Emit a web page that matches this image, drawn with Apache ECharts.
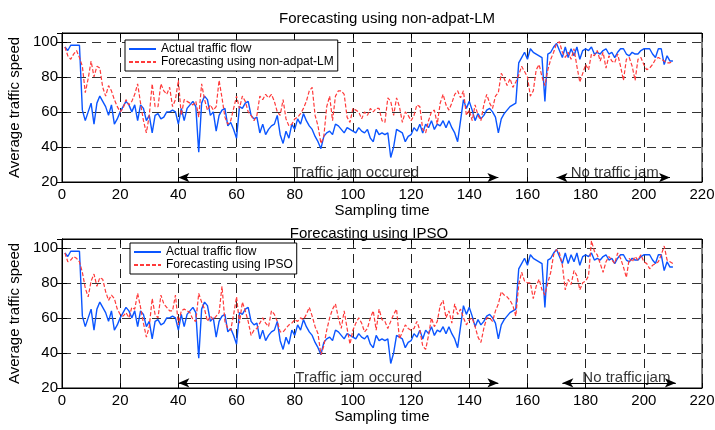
<!DOCTYPE html>
<html>
<head>
<meta charset="utf-8">
<title>Traffic forecasting</title>
<script src="https://cdn.jsdelivr.net/npm/echarts@6/dist/echarts.min.js"></script>
<style>
html, body { margin: 0; padding: 0; background: #fff; }
#main { width: 715px; height: 430px; }
</style>
</head>
<body>
<div id="main"></div>
<script>
// values, one per sampling step (1..210)
var actualFlow = [
	97, 95, 98, 98, 98, 98, 61, 55, 60, 65,
	53, 65, 69, 66, 63, 58, 64, 53, 56, 60,
	63, 66, 64, 60, 64, 55, 64, 62, 55, 58,
	48, 58, 59, 56, 57, 60, 60, 61, 60, 53,
	62, 55, 62, 64, 66, 63, 37, 65, 69, 67,
	58, 60, 49, 58, 61, 62, 52, 54, 50, 45,
	63, 62, 65, 66, 58, 56, 57, 48, 53, 47,
	50, 52, 53, 58, 47, 42, 49, 45, 53, 50,
	56, 53, 59, 55, 52, 50, 46, 43, 39, 46,
	48, 49, 47, 53, 52, 50, 48, 51, 50, 49,
	48, 51, 49, 48, 50, 45, 43, 50, 47, 48,
	47, 48, 34, 40, 50, 49, 48, 43, 46, 47,
	51, 49, 53, 48, 53, 51, 55, 50, 53, 52,
	55, 51, 55, 51, 48, 43, 55, 67, 62, 66,
	61, 55, 59, 56, 58, 61, 62, 60, 57, 48,
	56, 59, 61, 63, 64, 65, 88, 91, 94, 90,
	96, 94, 93, 92, 91, 66, 93, 94, 97, 99,
	95, 91, 97, 91, 96, 92, 97, 90, 95, 96,
	95, 97, 93, 94, 93, 95, 96, 93, 94, 91,
	94, 96, 96, 93, 92, 94, 93, 93, 95, 96,
	96, 96, 93, 91, 96, 96, 87, 92, 89, 89
];
var lmForecast = [
	97, 92, 90, 93, 95, 91, 86, 71, 79, 89,
	80, 86, 85, 74, 69, 75, 72, 67, 63, 60,
	62, 67, 64, 66, 70, 76, 65, 55, 48, 58,
	76, 63, 63, 76, 72, 70, 74, 63, 67, 78,
	58, 67, 66, 65, 64, 66, 57, 76, 67, 61,
	64, 61, 63, 78, 68, 57, 53, 55, 62, 69,
	62, 69, 66, 60, 58, 55, 58, 69, 67, 70,
	68, 70, 66, 60, 58, 67, 56, 52, 53, 56,
	57, 59, 62, 66, 72, 74, 58, 52, 42, 46,
	63, 69, 55, 69, 72, 72, 70, 57, 54, 62,
	61, 60, 56, 60, 58, 62, 60, 62, 62, 55,
	54, 68, 66, 58, 68, 63, 54, 60, 58, 55,
	58, 64, 63, 50, 48, 55, 60, 61, 53, 65,
	70, 64, 61, 65, 70, 72, 68, 72, 58, 61,
	55, 64, 58, 55, 64, 70, 65, 62, 69, 71,
	82, 79, 75, 79, 74, 77, 81, 86, 83, 80,
	69, 72, 84, 87, 80, 75, 84, 90, 94, 99,
	100, 94, 91, 94, 90, 96, 86, 77, 82, 87,
	84, 93, 92, 95, 89, 94, 85, 92, 89, 88,
	93, 86, 78, 90, 91, 86, 78, 90, 91, 87,
	84, 85, 87, 90, 91, 90, 89, 88, 88, 89
];
var ipsoForecast = [
	97, 92, 93, 95, 94, 92, 86, 77, 72, 81,
	85, 78, 83, 82, 75, 70, 73, 71, 65, 62,
	61, 63, 60, 66, 65, 74, 66, 57, 49, 55,
	71, 62, 60, 73, 68, 66, 64, 64, 73, 56,
	64, 65, 64, 63, 59, 58, 74, 69, 65, 58,
	61, 59, 61, 63, 78, 58, 54, 53, 62, 72,
	57, 69, 64, 58, 50, 53, 54, 57, 60, 57,
	55, 64, 62, 58, 52, 52, 54, 56, 57, 59,
	58, 60, 59, 62, 66, 61, 55, 51, 39, 44,
	53, 60, 65, 68, 60, 54, 64, 54, 45, 53,
	57, 60, 57, 52, 54, 60, 64, 53, 65, 59,
	58, 54, 58, 62, 65, 48, 52, 56, 54, 53,
	54, 58, 53, 44, 42, 50, 60, 55, 58, 67,
	70, 60, 64, 57, 68, 62, 65, 60, 56, 59,
	60, 55, 49, 46, 54, 60, 60, 58, 64, 68,
	75, 73, 72, 70, 67, 61, 79, 86, 81, 80,
	80, 71, 78, 82, 76, 73, 80, 86, 96, 99,
	97, 90, 76, 82, 79, 87, 84, 76, 80, 81,
	84, 104, 98, 96, 91, 86, 92, 95, 93, 91,
	97, 94, 89, 83, 94, 92, 95, 93, 96, 92,
	91, 88, 90, 91, 92, 96, 101, 93, 92, 91
];
var yTicks = [20, 40, 60, 80, 100];
// annotation spans in data units: [from, to, text x, label]
var topNotes = [[40, 150, 101, 'Traffic jam occured'], [170, 209, 190, 'No traffic jam']];
var bottomNotes = [[40, 150, 102, 'Traffic jam occured'], [172, 211, 194, 'No traffic jam']];

var FONT = 'Liberation Sans, Arial, Helvetica, sans-serif';
var BLUE = '#0a55ff';
var RED = '#ff3a3a';

function toPoints(arr) {
	return arr.map(function (v, i) { return [i + 1, v]; });
}

function mainX(grid) {
	return {
		type: 'value', gridIndex: grid, min: 0, max: 220, interval: 20,
		name: 'Sampling time', nameLocation: 'middle', nameGap: 20,
		nameTextStyle: { color: '#000', fontSize: 15, fontFamily: FONT },
		axisLine: { show: true, lineStyle: { color: '#000', width: 1 } },
		axisTick: { show: true, inside: true, length: 5, lineStyle: { color: '#000' } },
		axisLabel: { color: '#000', fontSize: 15, fontFamily: FONT, margin: 5 },
		splitLine: { show: true, lineStyle: { color: '#222', type: [9, 6], width: 1 } }
	};
}
function sideX(grid) {
	return {
		type: 'value', gridIndex: grid, position: 'top', min: 0, max: 220, interval: 20,
		axisLine: { show: true, lineStyle: { color: '#000' } },
		axisTick: { show: true, inside: true, length: 5, lineStyle: { color: '#000' } },
		axisLabel: { show: false }, splitLine: { show: false }
	};
}
function mainY(grid) {
	return {
		type: 'value', gridIndex: grid, min: 20, max: 105, interval: 20,
		name: 'Average traffic speed', nameLocation: 'middle', nameGap: 35,
		nameTextStyle: { color: '#000', fontSize: 15, fontFamily: FONT },
		axisLine: { show: true, lineStyle: { color: '#000', width: 1 } },
		axisTick: { show: true, inside: true, length: 5, lineStyle: { color: '#000' } },
		axisLabel: {
			color: '#000', fontSize: 15, fontFamily: FONT, margin: 4,
			formatter: function (v) { return yTicks.indexOf(v) >= 0 ? String(v) : ''; }
		},
		splitLine: { show: true, lineStyle: { color: '#333', type: [9, 6], width: 1 } }
	};
}
function sideY(grid) {
	return {
		type: 'value', gridIndex: grid, position: 'right', min: 20, max: 105, interval: 20,
		axisLine: { show: true, lineStyle: { color: '#000' } },
		axisTick: { show: true, inside: true, length: 5, lineStyle: { color: '#000' } },
		axisLabel: { show: false }, splitLine: { show: false }
	};
}

function notesSeries(xi, yi, notes, arrowY, textY) {
	return {
		type: 'scatter', xAxisIndex: xi, yAxisIndex: yi, silent: true,
		symbolSize: 1, itemStyle: { color: 'rgba(0,0,0,0)' },
		data: notes.map(function (n) { return [n[2], textY, n[3]]; }),
		label: {
			show: true, position: 'inside', color: '#000', fontSize: 15, fontFamily: FONT,
			formatter: function (p) { return p.data[2]; }
		},
		markLine: {
			silent: true, symbol: ['arrow', 'arrow'], symbolSize: [7, 11],
			label: { show: false },
			lineStyle: { color: '#000', type: 'solid', width: 1 },
			data: notes.map(function (n) {
				return [{ coord: [n[0], arrowY] }, { coord: [n[1], arrowY] }];
			})
		}
	};
}

function legendAt(names, left, top) {
	return {
		data: names,
		orient: 'vertical', align: 'left', left: left, top: top,
		padding: [3, 4, 3, 3], itemGap: 1, itemWidth: 27, itemHeight: 14,
		borderColor: '#000', borderWidth: 1, backgroundColor: '#fff', borderRadius: 0,
		itemStyle: { opacity: 0, borderWidth: 0 },
		textStyle: { color: '#000', fontSize: 12, fontFamily: FONT }
	};
}

var chart = echarts.init(document.getElementById('main'));
var option = {
	animation: false,
	backgroundColor: '#fff',
	textStyle: { fontFamily: FONT },
	title: [{
		text: 'Forecasting using non-adpat-LM', left: 382, top: 6, textAlign: 'center',
		textStyle: { color: '#000', fontSize: 15, fontWeight: 'normal', fontFamily: FONT }
	}, {
		text: 'Forecasting using IPSO', left: 364, top: 221, textAlign: 'center',
		textStyle: { color: '#000', fontSize: 15, fontWeight: 'normal', fontFamily: FONT }
	}],
	legend: [
		legendAt(['Actual traffic flow', 'Forecasting using non-adpat-LM'], 125, 40),
		legendAt(['Actual traffic flow', 'Forecasting using IPSO'], 130, 243)
	],
	grid: [
		{ left: 62, top: 33, width: 640, height: 149, show: true, borderColor: '#000', borderWidth: 1, backgroundColor: 'transparent', outerBoundsMode: 'none' },
		{ left: 62, top: 239, width: 640, height: 149, show: true, borderColor: '#000', borderWidth: 1, backgroundColor: 'transparent', outerBoundsMode: 'none' }
	],
	xAxis: [mainX(0), sideX(0), mainX(1), sideX(1)],
	yAxis: [mainY(0), sideY(0), mainY(1), sideY(1)],
	series: [{
		name: 'Actual traffic flow', type: 'line', xAxisIndex: 0, yAxisIndex: 0,
		symbol: 'none', data: toPoints(actualFlow), color: BLUE,
		lineStyle: { color: BLUE, width: 1.4 }
	}, {
		name: 'Forecasting using non-adpat-LM', type: 'line', xAxisIndex: 0, yAxisIndex: 0,
		symbol: 'none', data: toPoints(lmForecast), color: RED,
		lineStyle: { color: RED, width: 1.2, type: [4, 2] }
	}, {
		name: 'Actual traffic flow', type: 'line', xAxisIndex: 2, yAxisIndex: 2,
		symbol: 'none', data: toPoints(actualFlow), color: BLUE,
		lineStyle: { color: BLUE, width: 1.4 }
	}, {
		name: 'Forecasting using IPSO', type: 'line', xAxisIndex: 2, yAxisIndex: 2,
		symbol: 'none', data: toPoints(ipsoForecast), color: RED,
		lineStyle: { color: RED, width: 1.2, type: [4, 2] }
	},
	notesSeries(0, 0, topNotes, 22.5, 25.4),
	notesSeries(2, 2, bottomNotes, 22.9, 26)
	]
};
chart.setOption(option);
</script>
</body>
</html>
